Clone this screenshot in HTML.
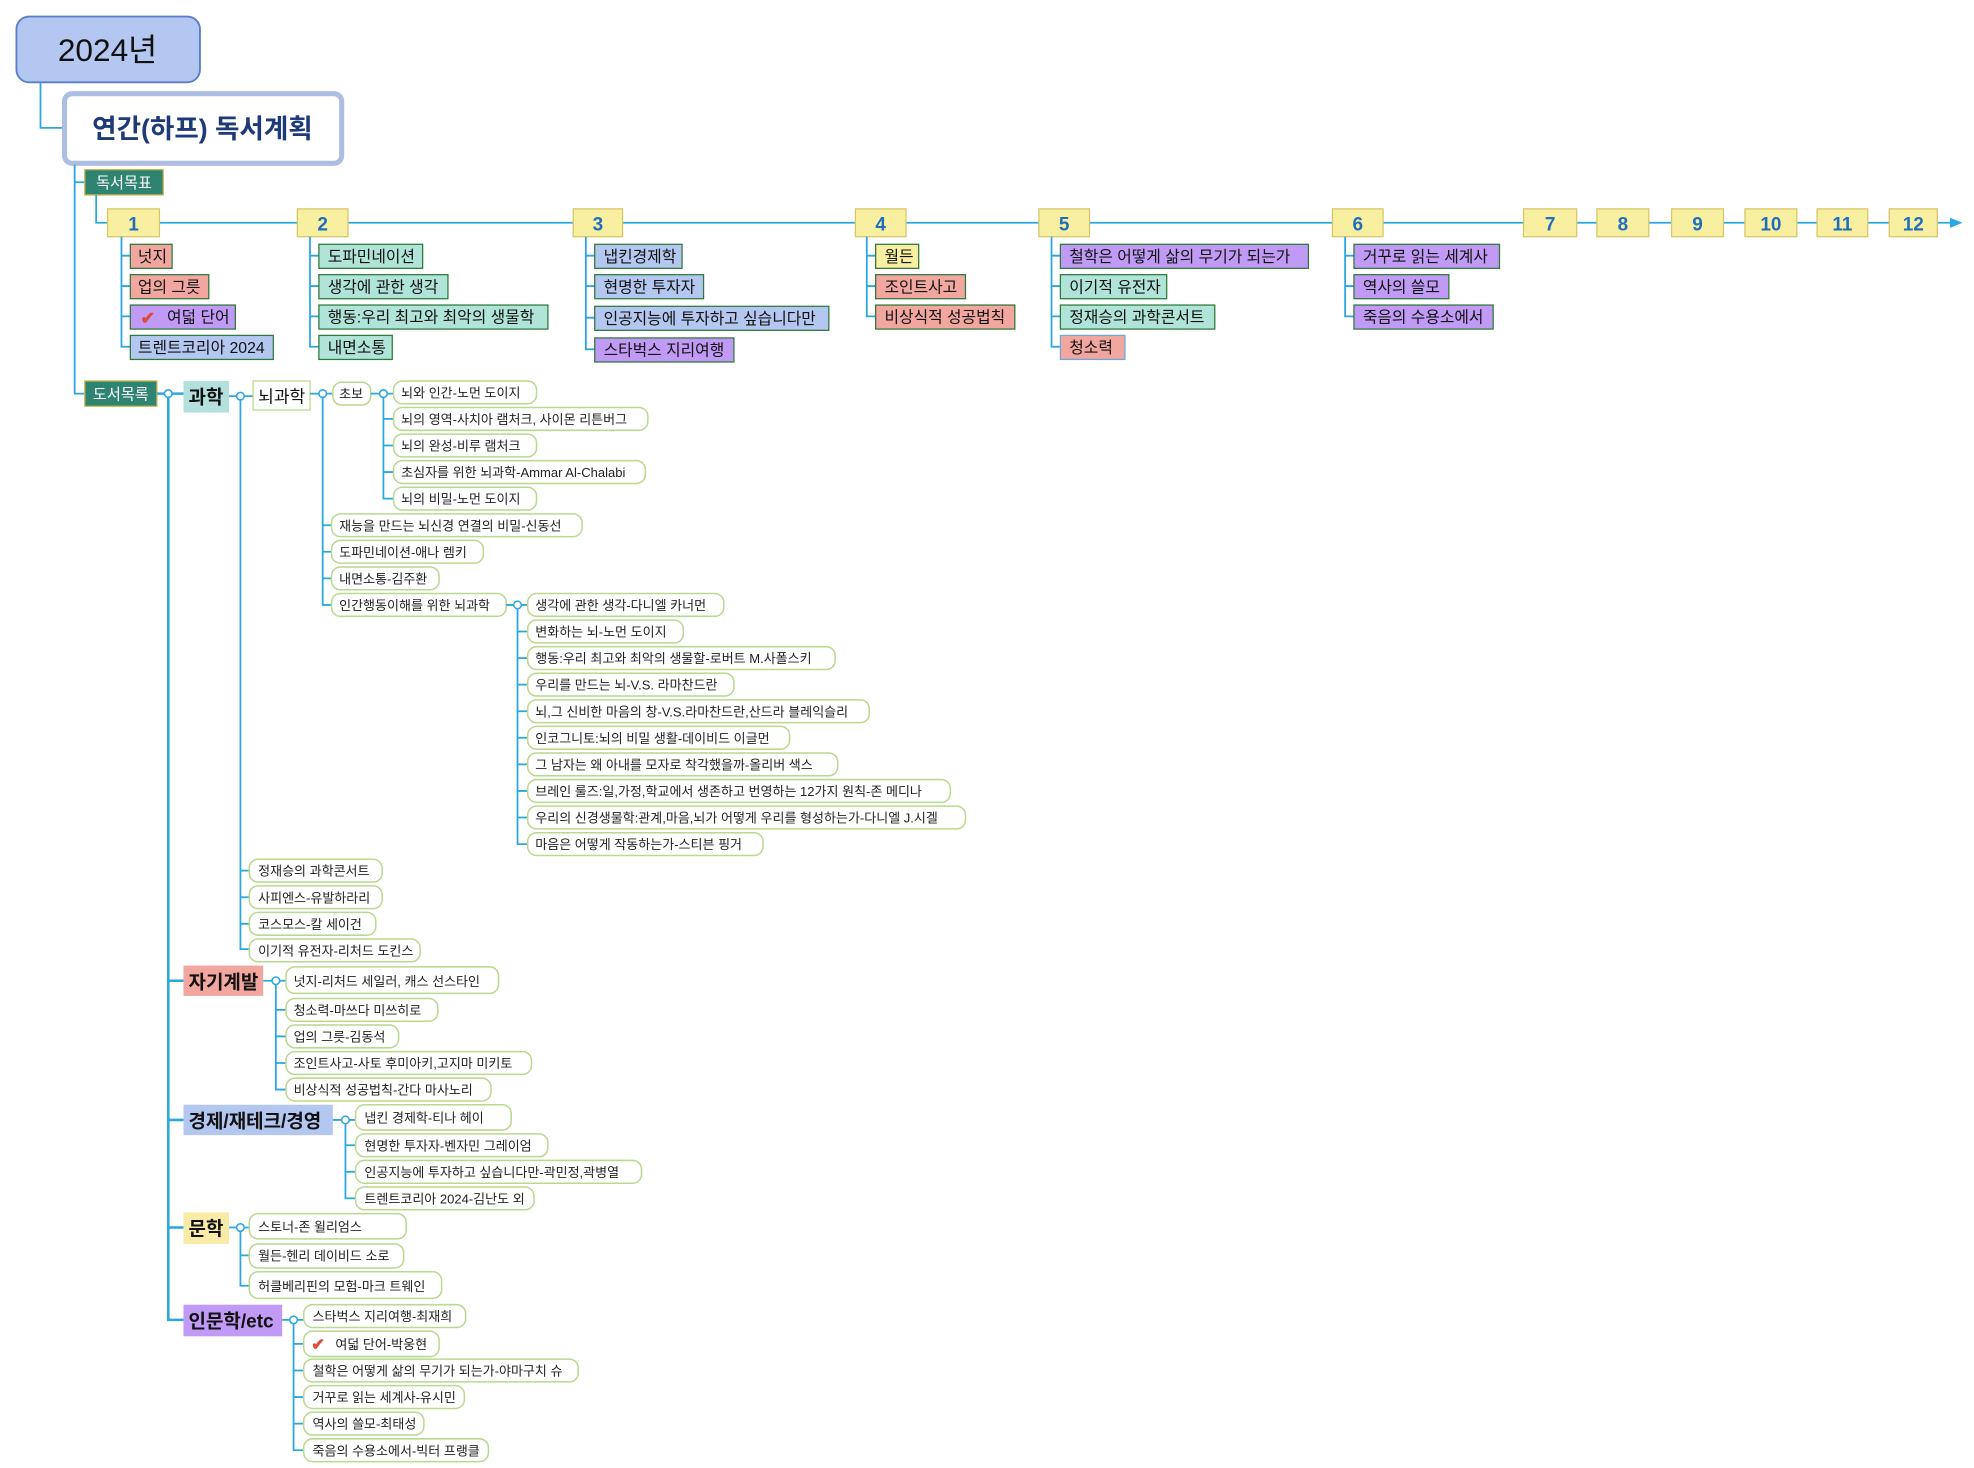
<!DOCTYPE html>
<html><head><meta charset="utf-8"><style>
html,body{margin:0;padding:0;background:#fff;}
svg{display:block;}
text{font-family:"Liberation Sans","Noto Sans CJK KR",sans-serif;}
.l{font-size:10.3px;fill:#222;}
.m{font-size:12.5px;fill:#111;}
.n{font-size:15px;font-weight:bold;fill:#1f6fbf;text-anchor:middle;}
.c{font-size:15px;font-weight:bold;fill:#111;}
.ln{stroke:#2aa7df;stroke-width:1.4;fill:none;}
.lf{fill:#fff;stroke:#b9d98e;stroke-width:1.2;}
.mb{fill:#f8f0a0;stroke:#d6c66a;stroke-width:1;}
.g{stroke:#2d7a3a;stroke-width:1;}
.cir{fill:#fff;stroke:#2aa7df;stroke-width:1.2;}
</style></head><body>
<svg width="1974" height="1468" viewBox="0 0 1560 1160" xmlns="http://www.w3.org/2000/svg">
<path class="ln" d="M32 65 V101 H50" stroke-width="2"/>
<rect x="13" y="13" width="145" height="52" rx="10" fill="#b4c7f0" stroke="#5b7fc8" stroke-width="1.5"/>
<text x="85" y="48" font-size="25" text-anchor="middle" fill="#111">2024년</text>
<rect x="51" y="74" width="219" height="55" rx="6" fill="#fff" stroke="#aebde2" stroke-width="4"/>
<text x="160" y="109" font-size="21" font-weight="bold" text-anchor="middle" fill="#1f3a78">연간(하프) 독서계획</text>
<path class="ln" d="M59 130 V311 H67 M59 144 H67"/>
<rect x="67" y="134" width="62" height="20" fill="#2e8470" stroke="#c8b84a"/>
<text x="98" y="148.5" font-size="12" fill="#fff" text-anchor="middle">독서목표</text>
<path class="ln" d="M76 154 V176 H85"/>
<path class="ln" d="M126 176 H1543"/>
<path d="M1541 172 L1551 176 L1541 180 Z" fill="#2aa7df"/>
<g>
<rect class="mb" x="85" y="165" width="41" height="22"/><text class="n" x="105.5" y="182">1</text>
<rect class="mb" x="235" y="165" width="40" height="22"/><text class="n" x="255" y="182">2</text>
<rect class="mb" x="453" y="165" width="39" height="22"/><text class="n" x="472.5" y="182">3</text>
<rect class="mb" x="676" y="165" width="40" height="22"/><text class="n" x="696" y="182">4</text>
<rect class="mb" x="821" y="165" width="40" height="22"/><text class="n" x="841" y="182">5</text>
<rect class="mb" x="1053" y="165" width="40" height="22"/><text class="n" x="1073" y="182">6</text>
<rect class="mb" x="1204" y="165" width="42" height="22"/><text class="n" x="1225" y="182">7</text>
<rect class="mb" x="1262" y="165" width="41" height="22"/><text class="n" x="1282.5" y="182">8</text>
<rect class="mb" x="1321" y="165" width="41" height="22"/><text class="n" x="1341.5" y="182">9</text>
<rect class="mb" x="1379" y="165" width="41" height="22"/><text class="n" x="1399.5" y="182">10</text>
<rect class="mb" x="1436" y="165" width="40" height="22"/><text class="n" x="1456" y="182">11</text>
<rect class="mb" x="1493" y="165" width="38" height="22"/><text class="n" x="1512" y="182">12</text>
</g>
<path class="ln" d="M96 187 V274 H103 M96 202 H103 M96 226 H103 M96 250 H103"/>
<rect class="g" x="103" y="193" width="33" height="19" fill="#f2a6a0"/><text class="m" x="109" y="207">넛지</text>
<rect class="g" x="103" y="217" width="62" height="19" fill="#f2a6a0"/><text class="m" x="109" y="231">업의 그릇</text>
<rect class="g" x="103" y="241" width="83" height="19" fill="#c09af5"/><text x="111" y="256" font-size="14" fill="#e04a3a" font-weight="bold">✔</text><text class="m" x="132" y="255">여덟 단어</text>
<rect class="g" x="103" y="265" width="113" height="19" fill="#b4c7f0"/><text class="m" x="109" y="279">트렌트코리아 2024</text>

<path class="ln" d="M245 187 V274 H252 M245 202 H252 M245 226 H252 M245 250 H252"/>
<rect class="g" x="252" y="193" width="82" height="19" fill="#b0e4d8"/><text class="m" x="259" y="207">도파민네이션</text>
<rect class="g" x="252" y="217" width="102" height="19" fill="#b0e4d8"/><text class="m" x="259" y="231">생각에 관한 생각</text>
<rect class="g" x="252" y="241" width="181" height="19" fill="#b0e4d8"/><text class="m" x="259" y="255">행동:우리 최고와 최악의 생물학</text>
<rect class="g" x="252" y="265" width="58" height="19" fill="#b0e4d8"/><text class="m" x="259" y="279">내면소통</text>

<path class="ln" d="M463 187 V276 H470 M463 202 H470 M463 226 H470 M463 251 H470"/>
<rect class="g" x="470" y="193" width="69" height="19" fill="#b4c7f0"/><text class="m" x="477" y="207">냅킨경제학</text>
<rect class="g" x="470" y="217" width="86" height="19" fill="#b4c7f0"/><text class="m" x="477" y="231">현명한 투자자</text>
<rect class="g" x="470" y="242" width="185" height="19" fill="#b4c7f0"/><text class="m" x="477" y="256">인공지능에 투자하고 싶습니다만</text>
<rect class="g" x="470" y="267" width="110" height="19" fill="#c09af5"/><text class="m" x="477" y="281">스타벅스 지리여행</text>

<path class="ln" d="M685 187 V250 H692 M685 202 H692 M685 226 H692"/>
<rect class="g" x="692" y="193" width="34" height="19" fill="#f8f0a0"/><text class="m" x="699" y="207">월든</text>
<rect class="g" x="692" y="217" width="71" height="19" fill="#f2a6a0"/><text class="m" x="699" y="231">조인트사고</text>
<rect class="g" x="692" y="241" width="110" height="19" fill="#f2a6a0"/><text class="m" x="699" y="255">비상식적 성공법칙</text>

<path class="ln" d="M831 187 V274 H838 M831 202 H838 M831 226 H838 M831 250 H838"/>
<rect class="g" x="838" y="193" width="196" height="19" fill="#c09af5"/><text class="m" x="845" y="207">철학은 어떻게 삶의 무기가 되는가</text>
<rect class="g" x="838" y="217" width="84" height="19" fill="#b0e4d8"/><text class="m" x="845" y="231">이기적 유전자</text>
<rect class="g" x="838" y="241" width="122" height="19" fill="#b0e4d8"/><text class="m" x="845" y="255">정재승의 과학콘서트</text>
<rect x="838" y="265" width="51" height="19" fill="#f2a6a0" stroke="#6aa9d8"/><text class="m" x="845" y="279">청소력</text>

<path class="ln" d="M1063 187 V250 H1070 M1063 202 H1070 M1063 226 H1070"/>
<rect class="g" x="1070" y="193" width="115" height="19" fill="#c09af5"/><text class="m" x="1077" y="207">거꾸로 읽는 세계사</text>
<rect class="g" x="1070" y="217" width="75" height="19" fill="#c09af5"/><text class="m" x="1077" y="231">역사의 쓸모</text>
<rect class="g" x="1070" y="241" width="110" height="19" fill="#c09af5"/><text class="m" x="1077" y="255">죽음의 수용소에서</text>

<rect x="67" y="301" width="57" height="20" fill="#2e8470" stroke="#c8b84a"/>
<text x="95.5" y="315.5" font-size="12" fill="#fff" text-anchor="middle">도서목록</text>
<path d="M124 311 H145 M133 311 V1043 H145 M133 775 H145 M133 885 H145 M133 970 H145" stroke="#2aa7df" stroke-width="2" fill="none"/>
<circle class="cir" cx="133" cy="311" r="3"/>
<rect x="145" y="301" width="36" height="25" fill="#b3e0dc"/><text class="c" x="149" y="319">과학</text>
<rect x="145" y="763" width="63" height="24" fill="#f2a6a0"/><text class="c" x="149" y="781">자기계발</text>
<rect x="145" y="873" width="118" height="24" fill="#b4c7f0"/><text class="c" x="149" y="891">경제/재테크/경영</text>
<rect x="145" y="958" width="36" height="25" fill="#f8eba8"/><text class="c" x="149" y="976">문학</text>
<rect x="145" y="1031" width="78" height="25" fill="#c09af5"/><text class="c" x="149" y="1049">인문학/etc</text>

<path class="ln" d="M181 313 H200 M190 313 V750 H197 M190 688 H197 M190 709 H197 M190 730 H197"/>
<circle class="cir" cx="190" cy="313" r="3"/>
<rect x="200" y="301" width="45" height="23" fill="#fff" stroke="#b9d98e"/><text x="204" y="318" font-size="13.5" fill="#111">뇌과학</text>
<rect class="lf" x="197" y="679" width="105" height="18" rx="7"/><text class="l" x="204" y="692">정재승의 과학콘서트</text>
<rect class="lf" x="197" y="700" width="105" height="18" rx="7"/><text class="l" x="204" y="713">사피엔스-유발하라리</text>
<rect class="lf" x="197" y="721" width="100" height="18" rx="7"/><text class="l" x="204" y="734">코스모스-칼 세이건</text>
<rect class="lf" x="197" y="742" width="135" height="18" rx="7"/><text class="l" x="204" y="755">이기적 유전자-리처드 도킨스</text>

<path class="ln" d="M245 311 H263 M255 311 V478 H262 M255 415 H262 M255 436 H262 M255 457 H262"/>
<circle class="cir" cx="255" cy="311" r="3"/>
<rect class="lf" x="263" y="302" width="30" height="18" rx="7"/><text class="l" x="268" y="315">초보</text>
<rect class="lf" x="262" y="406" width="198" height="18" rx="7"/><text class="l" x="268" y="419">재능을 만드는 뇌신경 연결의 비밀-신동선</text>
<rect class="lf" x="262" y="427" width="120" height="18" rx="7"/><text class="l" x="268" y="440">도파민네이션-애나 렘키</text>
<rect class="lf" x="262" y="448" width="85" height="18" rx="7"/><text class="l" x="268" y="461">내면소통-김주환</text>
<rect class="lf" x="262" y="469" width="138" height="18" rx="7"/><text class="l" x="268" y="482">인간행동이해를 위한 뇌과학</text>

<path class="ln" d="M293 311 H311 M303 311 V394 H311 M303 331 H311 M303 352 H311 M303 373 H311"/>
<circle class="cir" cx="303" cy="311" r="3"/>
<rect class="lf" x="311" y="301" width="113" height="18" rx="7"/><text class="l" x="317" y="314">뇌와 인간-노먼 도이지</text>
<rect class="lf" x="311" y="322" width="201" height="18" rx="7"/><text class="l" x="317" y="335">뇌의 영역-사치아 램처크, 사이몬 리튼버그</text>
<rect class="lf" x="311" y="343" width="113" height="18" rx="7"/><text class="l" x="317" y="356">뇌의 완성-비루 램처크</text>
<rect class="lf" x="311" y="364" width="199" height="18" rx="7"/><text class="l" x="317" y="377">초심자를 위한 뇌과학-Ammar Al-Chalabi</text>
<rect class="lf" x="311" y="385" width="113" height="18" rx="7"/><text class="l" x="317" y="398">뇌의 비밀-노먼 도이지</text>

<path class="ln" d="M400 478 H417 M409 478 V667 H417 M409 499 H417 M409 520 H417 M409 541 H417 M409 562 H417 M409 583 H417 M409 604 H417 M409 625 H417 M409 646 H417"/>
<circle class="cir" cx="409" cy="478" r="3"/>
<rect class="lf" x="417" y="469" width="155" height="18" rx="7"/><text class="l" x="423" y="482">생각에 관한 생각-다니엘 카너먼</text>
<rect class="lf" x="417" y="490" width="123" height="18" rx="7"/><text class="l" x="423" y="503">변화하는 뇌-노먼 도이지</text>
<rect class="lf" x="417" y="511" width="243" height="18" rx="7"/><text class="l" x="423" y="524">행동:우리 최고와 최악의 생물할-로버트 M.사폴스키</text>
<rect class="lf" x="417" y="532" width="163" height="18" rx="7"/><text class="l" x="423" y="545">우리를 만드는 뇌-V.S. 라마찬드란</text>
<rect class="lf" x="417" y="553" width="270" height="18" rx="7"/><text class="l" x="423" y="566">뇌,그 신비한 마음의 창-V.S.라마찬드란,산드라 블레익슬리</text>
<rect class="lf" x="417" y="574" width="207" height="18" rx="7"/><text class="l" x="423" y="587">인코그니토:뇌의 비밀 생활-데이비드 이글먼</text>
<rect class="lf" x="417" y="595" width="245" height="18" rx="7"/><text class="l" x="423" y="608">그 남자는 왜 아내를 모자로 착각했을까-올리버 색스</text>
<rect class="lf" x="417" y="616" width="334" height="18" rx="7"/><text class="l" x="423" y="629">브레인 룰즈:일,가정,학교에서 생존하고 번영하는 12가지 원칙-존 메디나</text>
<rect class="lf" x="417" y="637" width="346" height="18" rx="7"/><text class="l" x="423" y="650">우리의 신경생물학:관계,마음,뇌가 어떻게 우리를 형성하는가-다니엘 J.시겔</text>
<rect class="lf" x="417" y="658" width="186" height="18" rx="7"/><text class="l" x="423" y="671">마음은 어떻게 작동하는가-스티븐 핑거</text>

<path class="ln" d="M208 775 H226 M218 775 V861 H226 M218 798 H226 M218 819 H226 M218 840 H226"/>
<circle class="cir" cx="218" cy="775" r="3"/>
<rect class="lf" x="226" y="764" width="168" height="21" rx="7"/><text class="l" x="232" y="779">넛지-리처드 세일러, 캐스 선스타인</text>
<rect class="lf" x="226" y="789" width="120" height="18" rx="7"/><text class="l" x="232" y="802">청소력-마쓰다 미쓰히로</text>
<rect class="lf" x="226" y="810" width="89" height="18" rx="7"/><text class="l" x="232" y="823">업의 그릇-김동석</text>
<rect class="lf" x="226" y="831" width="194" height="18" rx="7"/><text class="l" x="232" y="844">조인트사고-사토 후미아키,고지마 미키토</text>
<rect class="lf" x="226" y="852" width="162" height="18" rx="7"/><text class="l" x="232" y="865">비상식적 성공법칙-간다 마사노리</text>

<path class="ln" d="M263 885 H281 M273 885 V947 H281 M273 905 H281 M273 926 H281"/>
<circle class="cir" cx="273" cy="885" r="3"/>
<rect class="lf" x="281" y="873" width="123" height="20" rx="7"/><text class="l" x="288" y="887">냅킨 경제학-티나 헤이</text>
<rect class="lf" x="281" y="896" width="152" height="18" rx="7"/><text class="l" x="288" y="909">현명한 투자자-벤자민 그레이엄</text>
<rect class="lf" x="281" y="917" width="226" height="18" rx="7"/><text class="l" x="288" y="930">인공지능에 투자하고 싶습니다만-곽민정,곽병열</text>
<rect class="lf" x="281" y="938" width="141" height="18" rx="7"/><text class="l" x="288" y="951">트렌트코리아 2024-김난도 외</text>

<path class="ln" d="M181 970 H197 M190 970 V1016 H197 M190 992 H197"/>
<circle class="cir" cx="190" cy="970" r="3"/>
<rect class="lf" x="197" y="959" width="124" height="20" rx="7"/><text class="l" x="204" y="973">스토너-존 윌리엄스</text>
<rect class="lf" x="197" y="983" width="122" height="19" rx="7"/><text class="l" x="204" y="996">월든-헨리 데이비드 소로</text>
<rect class="lf" x="197" y="1005" width="152" height="21" rx="7"/><text class="l" x="204" y="1020">허클베리핀의 모험-마크 트웨인</text>

<path class="ln" d="M223 1043 H240 M232 1043 V1146 H240 M232 1062 H240 M232 1083 H240 M232 1104 H240 M232 1125 H240"/>
<circle class="cir" cx="232" cy="1043" r="3"/>
<rect class="lf" x="240" y="1031" width="128" height="18" rx="7"/><text class="l" x="247" y="1044">스타벅스 지리여행-최재희</text>
<rect class="lf" x="240" y="1052" width="107" height="20" rx="7"/><text x="246" y="1067" font-size="13" fill="#e04a3a" font-weight="bold">✔</text><text class="l" x="265" y="1066">여덟 단어-박웅현</text>
<rect class="lf" x="240" y="1074" width="217" height="18" rx="7"/><text class="l" x="247" y="1087">철학은 어떻게 삶의 무기가 되는가-야마구치 슈</text>
<rect class="lf" x="240" y="1095" width="127" height="18" rx="7"/><text class="l" x="247" y="1108">거꾸로 읽는 세계사-유시민</text>
<rect class="lf" x="240" y="1116" width="95" height="18" rx="7"/><text class="l" x="247" y="1129">역사의 쓸모-최태성</text>
<rect class="lf" x="240" y="1137" width="146" height="18" rx="7"/><text class="l" x="247" y="1150">죽음의 수용소에서-빅터 프랭클</text>
</svg>
</body></html>
